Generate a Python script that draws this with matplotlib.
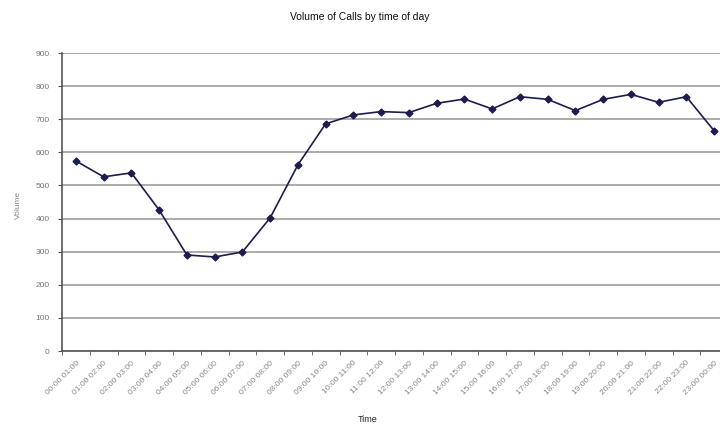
import matplotlib
matplotlib.use("Agg")
import matplotlib.pyplot as plt

plt.rcParams['font.family'] = ['Liberation Sans', 'DejaVu Sans']

# hourly slots
hours = ['00:00 01:00', '01:00 02:00', '02:00 03:00', '03:00 04:00', '04:00 05:00',
         '05:00 06:00', '06:00 07:00', '07:00 08:00', '08:00 09:00', '09:00 10:00',
         '10:00 11:00', '11:00 12:00', '12:00 13:00', '13:00 14:00', '14:00 15:00',
         '15:00 16:00', '16:00 17:00', '17:00 18:00', '18:00 19:00', '19:00 20:00',
         '20:00 21:00', '21:00 22:00', '22:00 23:00', '23:00 00:00']
volume = [574, 526, 538, 426, 290, 284, 299, 402, 562, 686, 713, 723,
          720, 748, 761, 731, 768, 760, 726, 760, 775, 751, 768, 665]
yticks = [0, 100, 200, 300, 400, 500, 600, 700, 800, 900]

fig = plt.figure(figsize=(7.2, 4.26), dpi=100)
# plot area runs past the right edge (chart was cropped)
ax = fig.add_axes([62/720, 75/426, 666/720, 298/426])

x = list(range(len(hours)))
ax.plot(x, volume, color='#1c1c4e', lw=1.2, marker='D', ms=3.5, zorder=3)

ax.set_xlim(-0.5, len(hours) - 0.5)
ax.set_ylim(0, 900)
ax.set_yticks(yticks)
ax.set_yticklabels([str(v) for v in yticks], fontsize=6, color='#777777')
ax.yaxis.grid(True, color='#a5a5a5', lw=1.3)
ax.set_axisbelow(True)

ax.set_xticks(x)
ax.set_xticklabels(hours, rotation=45, ha='right', va='top', rotation_mode='anchor',
                   fontsize=6, color='#888888')
ax.tick_params(axis='x', which='major', length=0, pad=6)
ax.set_xticks([i - 0.5 for i in range(len(hours) + 1)], minor=True)
ax.tick_params(axis='x', which='minor', length=3, color='#555555', direction='out')
ax.tick_params(axis='y', length=3, color='#555555', pad=6)

for side in ['top', 'right']:
    ax.spines[side].set_visible(False)
for side in ['left', 'bottom']:
    ax.spines[side].set_color('#555555')
    ax.spines[side].set_linewidth(1.2)

fig.text(0.5, 1 - 17/426, 'Volume of Calls by time of day', ha='center', va='center',
         fontsize=7.5, color='#111111')
fig.text(18/720, 1 - 205/426, 'Volume', rotation=90, ha='center', va='center',
         fontsize=6, color='#888888')
fig.text(368/720, 1 - 420/426, 'Time', ha='center', va='center', fontsize=6.5,
         color='#222222')

fig.savefig('out.png', dpi=100)
